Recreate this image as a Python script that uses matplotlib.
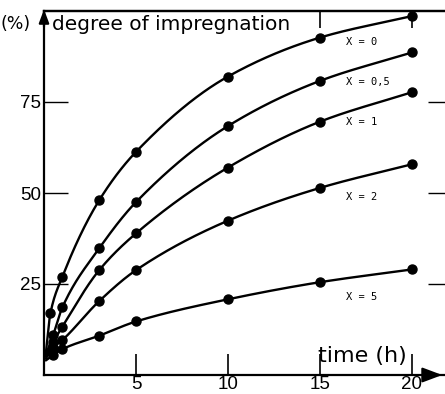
import matplotlib
matplotlib.use("Agg")
import matplotlib.pyplot as plt
import numpy as np

# data
t0 = [0.1, 0.35, 1, 3, 5, 10, 15, 20]
x0 = [6, 17, 27, 48, 61.3, 82, 92.7, 98.6]
t05 = [0.1, 0.5, 1, 3, 5, 10, 15, 20]
x05 = [5.5, 11, 18.6, 34.8, 47.5, 68.4, 80.8, 88.6]
t1 = [0.1, 0.5, 1, 3, 5, 10, 15, 20]
x1 = [5, 9, 13.3, 28.8, 38.9, 57, 69.6, 77.7]
t2 = [0.1, 0.5, 1, 3, 5, 10, 15, 20]
x2 = [4.5, 7.5, 9.6, 20.3, 28.8, 42.4, 51.4, 57.9]
t5 = [0.1, 0.5, 1, 3, 5, 10, 15, 20]
x5 = [4, 5.5, 7.1, 10.8, 14.7, 20.8, 25.5, 29.0]

labels = ["X = 0", "X = 0,5", "X = 1", "X = 2", "X = 5"]
label_y = [91.5, 80.5, 69.5, 48.9, 21.4]

xticks = [5, 10, 15, 20]
yticks = [25, 50, 75]


def pchip_line(x, y, n=400):
    """Monotone cubic rendering of the line through the measured points."""
    x = np.asarray(x, float)
    y = np.asarray(y, float)
    h = np.diff(x)
    d = np.diff(y) / h
    m = np.zeros_like(y)
    for k in range(1, len(x) - 1):
        if d[k - 1] * d[k] > 0:
            w1 = 2 * h[k] + h[k - 1]
            w2 = h[k] + 2 * h[k - 1]
            m[k] = (w1 + w2) / (w1 / d[k - 1] + w2 / d[k])
    m[0] = d[0]
    m[-1] = d[-1]
    xs = np.linspace(x[0], x[-1], n)
    idx = np.clip(np.searchsorted(x, xs) - 1, 0, len(x) - 2)
    hh = h[idx]
    s = (xs - x[idx]) / hh
    h00 = 2 * s**3 - 3 * s**2 + 1
    h10 = s**3 - 2 * s**2 + s
    h01 = -2 * s**3 + 3 * s**2
    h11 = s**3 - s**2
    ys = h00 * y[idx] + h10 * hh * m[idx] + h01 * y[idx + 1] + h11 * hh * m[idx + 1]
    return xs, ys


W, H = 445, 394
fig = plt.figure(figsize=(W / 100, H / 100), dpi=100)
ax = fig.add_axes([44 / W, 1 - 375 / H, (445 - 44) / W, (375 - 11) / H])
ax.set_xlim(0, (445 - 44) / 18.4)
ax.set_ylim(0, 100)

for (t, v), lab, ly in zip([(t0, x0), (t05, x05), (t1, x1), (t2, x2), (t5, x5)],
                           labels, label_y):
    xs, ys = pchip_line(t, v)
    ax.plot(xs, ys, color="black", lw=1.7, solid_capstyle="round")
    ax.plot(t[1:], v[1:], "o", color="black", ms=6.5)
    ax.text(16.4, ly, lab, fontsize=7.5, family="DejaVu Sans Mono",
            ha="left", va="center")

ax.spines["right"].set_visible(False)
for s in ["left", "bottom", "top"]:
    ax.spines[s].set_linewidth(1.6)

ax.set_xticks(xticks)
ax.set_xticklabels([str(v) for v in xticks], fontsize=13.5, family="Liberation Sans")
ax.set_yticks(yticks)
ax.set_yticklabels([str(v) for v in yticks], fontsize=13.5, family="Liberation Sans")
ax.tick_params(axis="x", direction="in", length=15, width=1.2, pad=1)
ax.tick_params(axis="y", direction="in", length=17, width=1.0, pad=2)

top = ax.secondary_xaxis("top")
top.set_xticks([15, 20])
top.set_xticklabels(["", ""])
top.tick_params(direction="in", length=12, width=1.2)
top.spines["top"].set_linewidth(1.6)

right = ax.secondary_yaxis("right")
right.set_yticks(yticks)
right.set_yticklabels(["", "", ""])
right.tick_params(direction="in", length=12, width=1.0)
right.spines["right"].set_visible(False)

# axis arrows
ax.annotate("", xy=(1.0, 0), xytext=(0.94, 0), xycoords="axes fraction",
            arrowprops=dict(arrowstyle="-|>,head_length=1.2,head_width=0.45",
                            color="black", lw=1.6))
ax.annotate("", xy=(0, 1.012), xytext=(0, 0.95), xycoords="axes fraction",
            arrowprops=dict(arrowstyle="-|>,head_length=0.8,head_width=0.3",
                            color="black", lw=1.6))

fig.text(1 / W, 1 - 24 / H, "(%)", fontsize=12.5, family="DejaVu Sans",
         ha="left", va="center")
fig.text(52 / W, 1 - 24 / H, "degree of impregnation", fontsize=14.5,
         family="DejaVu Sans", ha="left", va="center")
fig.text(318 / W, 1 - 356 / H, "time (h)", fontsize=16,
         family="DejaVu Sans", ha="left", va="center")

fig.savefig("out.png", dpi=100)
